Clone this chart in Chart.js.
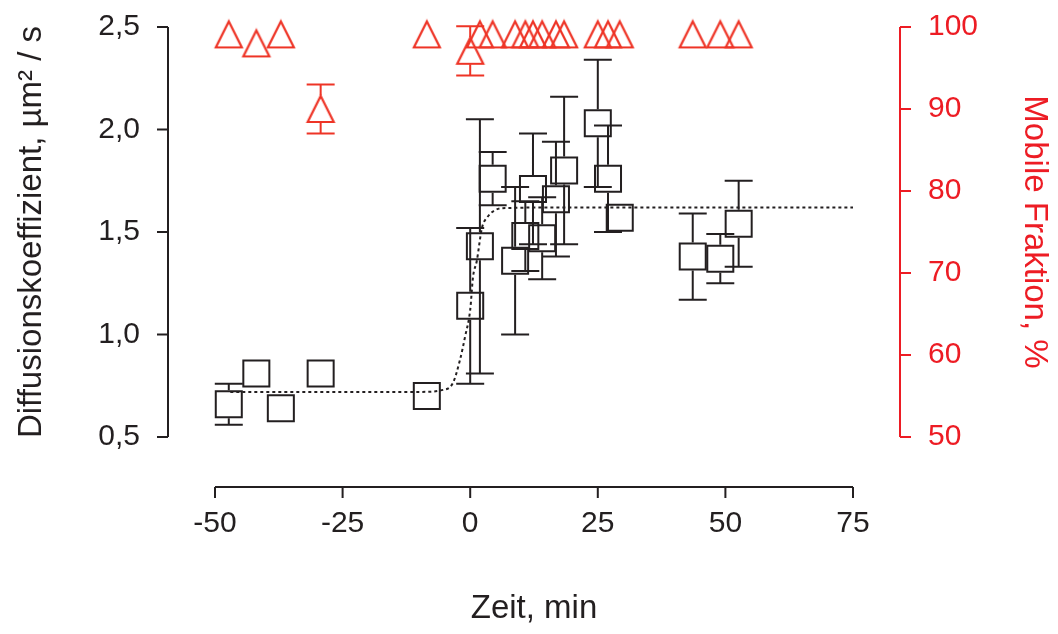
<!DOCTYPE html>
<html lang="de">
<head>
<meta charset="UTF-8">
<title>Diffusionskoeffizient und mobile Fraktion</title>
<script src="https://cdn.jsdelivr.net/npm/chart.js"></script>
<style>
    body, html {
        margin: 0;
        padding: 0;
        background: #fff;
        overflow: hidden;
    }
    canvas { display: block; }
</style>
</head>
<body>
<canvas id="diffChart" width="1058" height="634"></canvas>
<script>
    // Zeitpunkte (min), gleich fuer beide Messgroessen
    const zeit = [-47.3, -41.9, -37.1, -29.3, -8.5, 0, 1.9, 4.4, 8.8, 10.8, 12.3, 14.1, 16.8, 18.4, 25.0, 27.0, 29.3, 43.6, 49.0, 52.6];
    const diffusion = [0.66, 0.81, 0.64, 0.81, 0.70, 1.14, 1.43, 1.76, 1.36, 1.48, 1.71, 1.47, 1.66, 1.80, 2.03, 1.76, 1.57, 1.38, 1.37, 1.54];
    const diffusionErr = [0.10, 0.04, 0.04, 0.04, 0.04, 0.38, 0.62, 0.13, 0.36, 0.17, 0.27, 0.20, 0.28, 0.36, 0.31, 0.26, 0.05, 0.21, 0.12, 0.21];
    const mobileFraktion = [99.1, 98.0, 99.1, 90.0, 99.1, 97.1, 99.1, 99.1, 99.1, 99.1, 99.1, 99.1, 99.1, 99.1, 99.1, 99.1, 99.1, 99.1, 99.1, 99.1];
    const mobileErr = [0.5, 0.5, 0.5, 3.0, 0.5, 3.0, 0.5, 0.5, 0.5, 0.5, 0.5, 0.5, 0.5, 0.5, 0.5, 0.5, 0.5, 0.5, 0.5, 0.5];

    // gepunktete Fitkurve
    const fitZeit = [-47, -10, -5.3, -3.4, -2.0, -1.0, 0, 0.55, 1.3, 2.3, 3.3, 4.9, 7.2, 20, 75];
    const fitDiffusion = [0.72, 0.72, 0.73, 0.763, 0.876, 0.99, 1.12, 1.28, 1.36, 1.52, 1.57, 1.607, 1.617, 1.62, 1.62];

    const xTicks = [-50, -25, 0, 25, 50, 75];
    const leftTicks = [0.5, 1.0, 1.5, 2.0, 2.5];
    const leftTickLabels = ['0,5', '1,0', '1,5', '2,0', '2,5'];
    const rightTicks = [50, 60, 70, 80, 90, 100];

    const INK = '#231f20';
    const RED = '#ed1c24';
    const TRI_RED = '#ee3426';
    const FONT = 'Liberation Sans, Arial, sans-serif';

    function makeTriangle(color) {
        const c = document.createElement('canvas');
        c.width = 32;
        c.height = 32;
        const g = c.getContext('2d');
        g.strokeStyle = color;
        g.lineWidth = 2.2;
        g.beginPath();
        g.moveTo(16, 3);
        g.lineTo(29, 29);
        g.lineTo(3, 29);
        g.closePath();
        g.stroke();
        return c;
    }

    function pairs(xs, ys) {
        return xs.map((v, i) => ({ x: v, y: ys[i] }));
    }

    // fixe Achsenbreite; die grosse Tick-Padding soll den Plotbereich nicht verkleinern
    function fixSize(prop, size) {
        return s => {
            s[prop] = size;
            s.paddingTop = Math.min(s.paddingTop || 0, 15);
            s.paddingBottom = Math.min(s.paddingBottom || 0, 15);
            s.paddingLeft = Math.min(s.paddingLeft || 0, 30);
            s.paddingRight = Math.min(s.paddingRight || 0, 30);
        };
    }

    // Fehlerbalken, ausserhalb des Symbols gezeichnet
    const errorBars = {
        id: 'errorBars',
        afterDatasetsDraw(chart) {
            const { ctx, scales } = chart;
            const draw = (ys, errs, scale, color, half) => {
                ctx.save();
                ctx.strokeStyle = color;
                ctx.lineWidth = 2;
                ctx.beginPath();
                zeit.forEach((t, i) => {
                    const px = scales.x.getPixelForValue(t);
                    const py = scale.getPixelForValue(ys[i]);
                    const top = scale.getPixelForValue(ys[i] + errs[i]);
                    const bot = scale.getPixelForValue(ys[i] - errs[i]);
                    if (py - top > half) {
                        ctx.moveTo(px, py - half); ctx.lineTo(px, top);
                        ctx.moveTo(px - 14, top); ctx.lineTo(px + 14, top);
                    }
                    if (bot - py > half) {
                        ctx.moveTo(px, py + half); ctx.lineTo(px, bot);
                        ctx.moveTo(px - 14, bot); ctx.lineTo(px + 14, bot);
                    }
                });
                ctx.stroke();
                ctx.restore();
            };
            draw(diffusion, diffusionErr, scales.y, INK, 14);
            draw(mobileFraktion, mobileErr, scales.y2, TRI_RED, 13.5);
        }
    };

    // abgesetzte Achsenlinien mit Teilstrichen
    const spines = {
        id: 'spines',
        afterDraw(chart) {
            const { ctx, chartArea, scales: { x, y, y2 } } = chart;
            ctx.save();
            ctx.lineWidth = 2;

            const lx = chartArea.left - 47;
            ctx.strokeStyle = INK;
            ctx.beginPath();
            ctx.moveTo(lx, y.getPixelForValue(y.min));
            ctx.lineTo(lx, y.getPixelForValue(y.max));
            y.ticks.forEach(t => {
                const p = y.getPixelForValue(t.value);
                ctx.moveTo(lx - 11, p); ctx.lineTo(lx, p);
            });
            ctx.stroke();

            const rx = chartArea.right + 47;
            ctx.strokeStyle = RED;
            ctx.beginPath();
            ctx.moveTo(rx, y2.getPixelForValue(y2.min));
            ctx.lineTo(rx, y2.getPixelForValue(y2.max));
            y2.ticks.forEach(t => {
                const p = y2.getPixelForValue(t.value);
                ctx.moveTo(rx, p); ctx.lineTo(rx + 11, p);
            });
            ctx.stroke();

            const by = chartArea.bottom + 50;
            ctx.strokeStyle = INK;
            ctx.beginPath();
            ctx.moveTo(x.getPixelForValue(x.min), by);
            ctx.lineTo(x.getPixelForValue(x.max), by);
            x.ticks.forEach(t => {
                const p = x.getPixelForValue(t.value);
                ctx.moveTo(p, by); ctx.lineTo(p, by + 11);
            });
            ctx.stroke();
            ctx.restore();
        }
    };

    const ctx = document.getElementById('diffChart').getContext('2d');
    new Chart(ctx, {
        type: 'scatter',
        data: {
            datasets: [
                {
                    label: 'Fit',
                    type: 'line',
                    data: pairs(fitZeit, fitDiffusion),
                    yAxisID: 'y',
                    borderColor: INK,
                    borderWidth: 2,
                    borderDash: [3, 3],
                    pointRadius: 0,
                    cubicInterpolationMode: 'monotone',
                    fill: false,
                    clip: false
                },
                {
                    label: 'Diffusionskoeffizient',
                    data: pairs(zeit, diffusion),
                    yAxisID: 'y',
                    pointStyle: 'rect',
                    pointRadius: 18.4,
                    borderColor: INK,
                    borderWidth: 2,
                    backgroundColor: 'rgba(0,0,0,0)',
                    clip: false
                },
                {
                    label: 'Mobile Fraktion',
                    data: pairs(zeit, mobileFraktion),
                    yAxisID: 'y2',
                    pointStyle: makeTriangle(TRI_RED),
                    pointRadius: 14,
                    clip: false
                }
            ]
        },
        options: {
            responsive: false,
            animation: false,
            events: [],
            layout: { padding: { top: 27, left: 0, right: 0, bottom: 0 } },
            plugins: {
                legend: { display: false },
                tooltip: { enabled: false }
            },
            scales: {
                x: {
                    type: 'linear',
                    min: -50,
                    max: 75,
                    afterBuildTicks: s => { s.ticks = xTicks.map(v => ({ value: v })); },
                    afterFit: fixSize('height', 197),
                    grid: { display: false, drawTicks: false },
                    border: { display: false },
                    ticks: {
                        color: INK,
                        padding: 69,
                        maxRotation: 0,
                        font: { family: FONT, size: 30 }
                    },
                    title: {
                        display: true,
                        text: 'Zeit, min',
                        color: INK,
                        padding: { top: 0, bottom: 5 },
                        font: { family: FONT, size: 33 }
                    }
                },
                y: {
                    type: 'linear',
                    position: 'left',
                    min: 0.5,
                    max: 2.5,
                    afterBuildTicks: s => { s.ticks = leftTicks.map(v => ({ value: v })); },
                    afterFit: fixSize('width', 215),
                    grid: { display: false, drawTicks: false },
                    border: { display: false },
                    ticks: {
                        color: INK,
                        padding: 75,
                        font: { family: FONT, size: 30 },
                        callback: (v, i) => leftTickLabels[i]
                    },
                    title: {
                        display: true,
                        text: 'Diffusionskoeffizient, µm² / s',
                        color: INK,
                        padding: { top: 12, bottom: 0 },
                        font: { family: FONT, size: 33 }
                    }
                },
                y2: {
                    type: 'linear',
                    position: 'right',
                    min: 50,
                    max: 100,
                    afterBuildTicks: s => { s.ticks = rightTicks.map(v => ({ value: v })); },
                    afterFit: fixSize('width', 205),
                    grid: { display: false, drawTicks: false },
                    border: { display: false },
                    ticks: {
                        color: RED,
                        padding: 75,
                        font: { family: FONT, size: 30 }
                    },
                    title: {
                        display: true,
                        text: 'Mobile Fraktion, %',
                        color: RED,
                        padding: { top: 4, bottom: 0 },
                        font: { family: FONT, size: 33 }
                    }
                }
            }
        },
        plugins: [errorBars, spines]
    });
</script>
</body>
</html>
